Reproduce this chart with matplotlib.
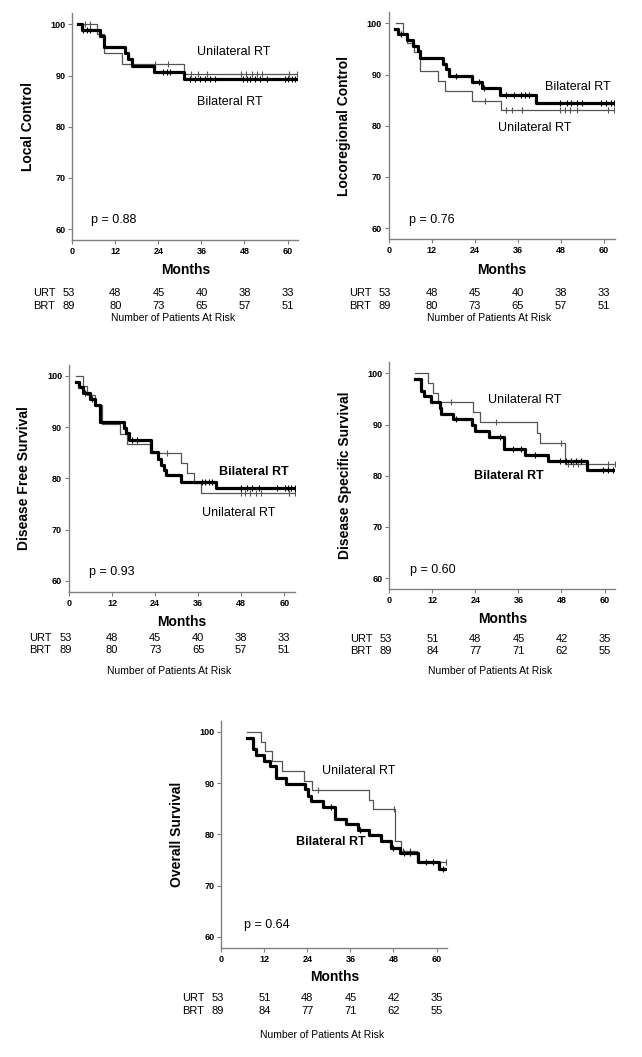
import matplotlib
matplotlib.use('Agg')
import matplotlib.pyplot as plt
from matplotlib.transforms import blended_transform_factory

plt.rcParams['font.family'] = ['Liberation Sans', 'DejaVu Sans']

# risk table tick months
risk_months = [-1, 12, 24, 36, 48, 60]

# Local control
lc_urt_t = [2.0, 6.8, 8.8, 13.8, 31.0]
lc_urt_s = [100, 98.1, 94.3, 92.3, 90.2]
lc_urt_c = [3.5, 4.9, 23.1, 26.7, 33, 35, 37.5, 47, 48.5, 50, 51.5, 53, 60.5, 62.5]
lc_brt_t = [1.7, 2.8, 7.7, 8.7, 14.7, 15.6, 16.6, 22.7, 31.0]
lc_brt_s = [100, 98.9, 97.8, 95.5, 94.4, 93.2, 91.9, 90.7, 89.3]
lc_brt_c = [3, 4, 5, 25.3, 26.4, 27.3, 32.9, 34.2, 35.6, 37, 38.4, 39.8, 47.6, 48.7,
            49.6, 51, 52.4, 54.4, 59.4, 60.2, 61.3, 62.2]

# Locoregional control
lrc_urt_t = [2.0, 3.9, 5.1, 7.1, 8.8, 13.8, 15.8, 23.1, 31.3]
lrc_urt_s = [100, 98.0, 96.2, 94.3, 90.6, 88.7, 86.8, 84.9, 83.0]
lrc_urt_c = [26.8, 32.8, 34.3, 37.1, 47.8, 49.2, 50.6, 52.4, 61.1, 62.8]
lrc_brt_t = [1.8, 2.5, 5.0, 6.8, 8.2, 8.7, 15.2, 16.1, 16.9, 23.1, 25.9, 31.0, 41.2]
lrc_brt_s = [98.9, 97.9, 96.7, 95.6, 94.5, 93.2, 92.1, 91.0, 89.7, 88.5, 87.3, 86.0, 84.5]
lrc_brt_c = [3.5, 18.7, 25.2, 26.6, 32.7, 35, 36.8, 37.9, 39.1, 47.8, 49.6, 50.9, 52.6,
             54, 59.1, 60.5, 61.9, 62.8]

# Disease free survival
dfs_urt_t = [2.0, 3.9, 4.9, 7.2, 9.1, 14.2, 16.1, 22.7, 31.1, 32.9, 34.8, 36.8]
dfs_urt_s = [100, 98.1, 96.2, 94.3, 90.6, 88.7, 86.8, 84.9, 83.0, 81.0, 79.1, 77.1]
dfs_urt_c = [27.2, 47.9, 49.2, 50.5, 52, 53.5, 61.2, 62.9]
dfs_brt_t = [2.0, 2.9, 3.8, 5.9, 7.3, 8.7, 15.3, 16.0, 16.7, 22.9, 24.8, 25.7, 26.4, 27.0, 31.1, 40.9]
dfs_brt_s = [98.9, 97.8, 96.6, 95.5, 94.4, 91.0, 89.9, 88.8, 87.6, 85.1, 83.8, 82.7, 81.6, 80.6, 79.3, 78.1]
dfs_brt_c = [4.5, 6.5, 17.5, 19, 37, 38, 39, 40, 47.9, 49.5, 51, 53, 58, 60.2, 61, 62, 62.9]

# Disease specific survival
dss_urt_t = [7.2, 10.9, 12.1, 13.7, 23.3, 25.3, 41.1, 42.1, 49.1]
dss_urt_s = [100, 98.1, 96.2, 94.3, 92.4, 90.5, 88.4, 86.4, 82.3]
dss_urt_c = [17.2, 29.8, 47.9, 49.9, 51.3, 52.6, 60.9, 62.8]
dss_brt_t = [7.3, 8.7, 9.8, 11.6, 14.0, 14.4, 17.7, 23.0, 23.9, 27.9, 31.9, 37.7, 44.2, 55.1]
dss_brt_s = [98.9, 96.6, 95.5, 94.4, 93.3, 92.1, 91.0, 89.9, 88.8, 87.6, 85.3, 84.1, 82.9, 81.2]
dss_brt_c = [18.6, 30.9, 34.6, 36.6, 40.5, 47.7, 49.3, 50.7, 52.1, 53.5, 59.5, 60.9, 62.3]

# Overall survival
os_urt_t = [7.1, 11.1, 12.2, 14.0, 17.0, 23.1, 25.2, 41.1, 42.2, 48.5, 50.0, 54.5]
os_urt_s = [100, 98.1, 96.2, 94.3, 92.4, 90.5, 88.7, 86.8, 84.9, 78.7, 76.7, 74.6]
os_urt_c = [27.0, 48.2, 50.7, 52.5, 62.5]
os_brt_t = [7.1, 8.7, 9.8, 11.9, 13.6, 15.3, 18.1, 23.2, 24.2, 24.9, 28.3, 31.6, 34.8,
            38.1, 41.3, 44.6, 47.4, 49.7, 54.8, 60.8]
os_brt_s = [98.9, 96.7, 95.5, 94.4, 93.3, 91.1, 89.9, 88.9, 87.6, 86.5, 85.4, 83.1, 82.0,
            80.8, 79.8, 78.7, 77.4, 76.4, 74.7, 73.3]
os_brt_c = [30.7, 38.6, 47.9, 50.8, 52.5, 57.2, 59.1, 61.8]

# patients at risk
risk_urt_a = [53, 48, 45, 40, 38, 33]
risk_brt_a = [89, 80, 73, 65, 57, 51]
risk_urt_b = [53, 51, 48, 45, 42, 35]
risk_brt_b = [89, 84, 77, 71, 62, 55]

W, H = 642, 1057
fig = plt.figure(figsize=(W / 100, H / 100), dpi=100)


def surv_at(ts, ss, t):
    v = ss[0]
    for ti, si in zip(ts, ss):
        if ti <= t:
            v = si
    return v


def draw_panel(left, bottom, ylabel, urt, brt, end, risk_u, risk_b, labels, ptxt, rows):
    ax = fig.add_axes([left / W, 1 - bottom / H, 226 / W, 227 / H])
    for (ts, ss, cs), col, lw in [(urt, '#555555', 0.9), (brt, 'black', 2.3)]:
        ax.step(ts + [end], ss + [ss[-1]], where='post', color=col, lw=lw)
        ax.plot(cs, [surv_at(ts, ss, c) for c in cs], ls='none', marker='|',
                ms=4, mew=0.8, color=col)
    ax.set_xlim(0, 63)
    ax.set_ylim(57.9, 102.2)
    ax.set_xticks([0, 12, 24, 36, 48, 60])
    ax.set_yticks([60, 70, 80, 90, 100])
    for s in ['top', 'right']:
        ax.spines[s].set_visible(False)
    for s in ['left', 'bottom']:
        ax.spines[s].set_color('#808080')
        ax.spines[s].set_linewidth(1)
    ax.tick_params(length=3, width=0.8, color='#808080', labelsize=6.5, pad=2)
    for lbl in ax.get_xticklabels() + ax.get_yticklabels():
        lbl.set_fontweight('bold')
    ax.set_ylabel(ylabel, fontsize=10, fontweight='bold')
    ax.yaxis.set_label_coords(-37.5 / 226, 0.5)

    for txt, x, y, wt in labels:
        ax.text(x, y, txt, fontsize=9, fontweight=wt, ha='left', va='center')
    ax.text(ptxt[1], ptxt[2], ptxt[0], fontsize=9, ha='left', va='center')

    tr = blended_transform_factory(ax.transData, fig.transFigure)
    ax.text(31.5, 1 - rows[0] / H, 'Months', transform=tr, fontsize=10,
            fontweight='bold', ha='center', va='center')
    ax.text(-11, 1 - rows[1] / H, 'URT', transform=tr, fontsize=8, ha='left', va='center')
    ax.text(-11, 1 - rows[2] / H, 'BRT', transform=tr, fontsize=8, ha='left', va='center')
    for m, u, b in zip(risk_months, risk_u, risk_b):
        ax.text(m, 1 - rows[1] / H, str(u), transform=tr, fontsize=8, ha='center', va='center')
        ax.text(m, 1 - rows[2] / H, str(b), transform=tr, fontsize=8, ha='center', va='center')
    ax.text(28, 1 - rows[3] / H, 'Number of Patients At Risk', transform=tr,
            fontsize=7.5, ha='center', va='center')
    return ax


draw_panel(72.3, 240, 'Local Control',
           (lc_urt_t, lc_urt_s, lc_urt_c), (lc_brt_t, lc_brt_s, lc_brt_c), 62.7,
           risk_urt_a, risk_brt_a,
           [('Unilateral RT', 34.7, 94.5, 'normal'), ('Bilateral RT', 34.7, 84.9, 'normal')],
           ('p = 0.88', 5.2, 61.8), [270, 293, 306, 318])

draw_panel(388.7, 239, 'Locoregional Control',
           (lrc_urt_t, lrc_urt_s, lrc_urt_c), (lrc_brt_t, lrc_brt_s, lrc_brt_c), 62.8,
           risk_urt_a, risk_brt_a,
           [('Bilateral RT', 43.6, 87.5, 'normal'), ('Unilateral RT', 30.5, 79.5, 'normal')],
           ('p = 0.76', 5.6, 61.6), [270, 293, 306, 318])

draw_panel(69, 591.7, 'Disease Free Survival',
           (dfs_urt_t, dfs_urt_s, dfs_urt_c), (dfs_brt_t, dfs_brt_s, dfs_brt_c), 62.9,
           risk_urt_a, risk_brt_a,
           [('Bilateral RT', 41.9, 81.2, 'bold'), ('Unilateral RT', 37.1, 73.3, 'normal')],
           ('p = 0.93', 5.7, 61.8), [621.7, 637.7, 650, 671])

draw_panel(389.3, 589, 'Disease Specific Survival',
           (dss_urt_t, dss_urt_s, dss_urt_c), (dss_brt_t, dss_brt_s, dss_brt_c), 62.9,
           risk_urt_b, risk_brt_b,
           [('Unilateral RT', 27.5, 94.8, 'normal'), ('Bilateral RT', 23.7, 80.0, 'bold')],
           ('p = 0.60', 5.9, 61.7), [619.3, 639, 650.7, 671])

draw_panel(221.3, 947.7, 'Overall Survival',
           (os_urt_t, os_urt_s, os_urt_c), (os_brt_t, os_brt_s, os_brt_c), 62.9,
           risk_urt_b, risk_brt_b,
           [('Unilateral RT', 28.0, 92.4, 'normal'), ('Bilateral RT', 20.7, 78.6, 'bold')],
           ('p = 0.64', 6.4, 62.4), [977.3, 998.3, 1010.7, 1035])

fig.savefig('out.png', dpi=100)
